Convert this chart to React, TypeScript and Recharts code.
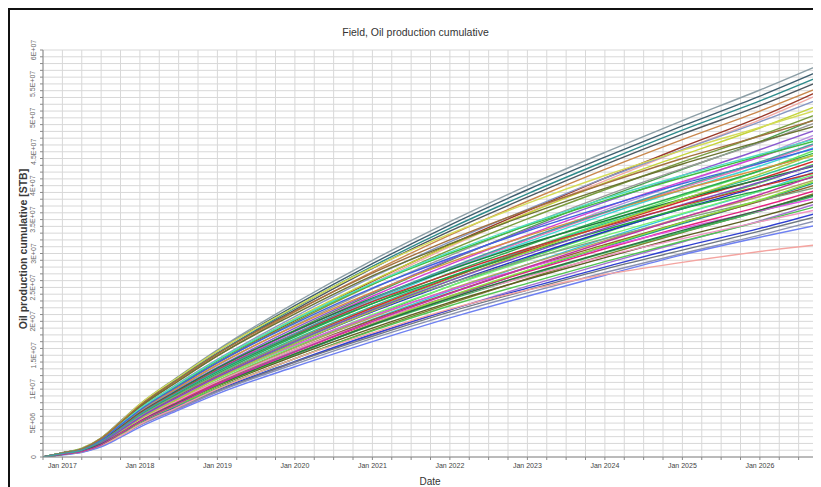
import React from "react";
import { LineChart, Line, XAxis, YAxis, CartesianGrid } from "recharts";

// sample dates (decimal years), values in millions of STB
const times = [2016.75, 2017, 2017.25, 2017.5, 2017.75, 2018, 2018.5, 2019, 2020, 2021, 2022, 2023, 2024, 2025, 2026, 2026.75];
const xTickYears = [2017, 2018, 2019, 2020, 2021, 2022, 2023, 2024, 2025, 2026];
const xTickLabels = ["Jan 2017", "Jan 2018", "Jan 2019", "Jan 2020", "Jan 2021", "Jan 2022", "Jan 2023", "Jan 2024", "Jan 2025", "Jan 2026"];
const yTickValues = [0, 5, 10, 15, 20, 25, 30, 35, 40, 45, 50, 55, 60];
const yTickLabels = ["0", "5E+06", "1E+07", "1.5E+07", "2E+07", "2.5E+07", "3E+07", "3.5E+07", "4E+07", "4.5E+07", "5E+07", "5.5E+07", "6E+07"];

const r01 = [0, 0.6, 1.3, 2.8, 5.3, 7.8, 11.9, 15.8, 22.7, 29.0, 34.7, 40.0, 44.9, 49.6, 54.1, 57.7];
const r02 = [0, 0.6, 1.2, 2.8, 5.2, 7.7, 11.8, 15.6, 22.3, 28.5, 34.2, 39.4, 44.2, 48.8, 53.2, 56.8];
const r03 = [0, 0.6, 1.2, 2.7, 5.1, 7.6, 11.6, 15.3, 22.0, 28.1, 33.7, 38.8, 43.6, 48.2, 52.5, 56.0];
const r04 = [0, 0.6, 1.2, 2.7, 5.0, 7.5, 11.4, 15.2, 21.7, 27.8, 33.3, 38.3, 43.1, 47.6, 51.8, 55.3];
const r05 = [0, 0.6, 1.2, 2.7, 5.0, 7.3, 11.3, 14.9, 21.4, 27.3, 32.7, 37.7, 42.4, 46.8, 51.0, 54.4];
const r06 = [0, 0.5, 1.1, 2.4, 4.5, 6.7, 10.3, 13.9, 20.1, 25.9, 31.3, 36.3, 41.1, 45.7, 50.1, 53.9];
const r07 = [0, 0.5, 1.1, 2.3, 4.4, 6.7, 10.2, 13.8, 19.9, 25.6, 31.0, 36.0, 40.7, 45.3, 49.7, 53.4];
const r08 = [0, 0.6, 1.2, 2.6, 4.8, 7.1, 10.9, 14.4, 20.7, 26.5, 31.7, 36.5, 41.1, 45.3, 49.4, 52.7];
const r09 = [0, 0.5, 1.1, 2.5, 4.7, 7.0, 10.7, 14.2, 20.4, 26.0, 31.2, 35.9, 40.4, 44.5, 48.5, 51.8];
const r10 = [0, 0.6, 1.3, 2.8, 5.2, 7.8, 11.8, 15.6, 22.1, 27.9, 32.9, 37.4, 41.5, 45.2, 48.6, 51.2];
const r11 = [0, 0.5, 1.1, 2.5, 4.6, 6.8, 10.5, 13.9, 19.9, 25.4, 30.5, 35.1, 39.4, 43.5, 47.4, 50.6];
const r12 = [0, 0.5, 1.0, 2.2, 4.2, 6.3, 9.6, 12.9, 18.7, 24.0, 29.0, 33.7, 38.2, 42.4, 46.5, 50.0];
const r13 = [0, 0.5, 1.1, 2.4, 4.5, 6.7, 10.2, 13.5, 19.4, 24.8, 29.7, 34.2, 38.5, 42.5, 46.3, 49.4];
const r14 = [0, 0.6, 1.2, 2.7, 5.0, 7.4, 11.2, 14.9, 21.1, 26.7, 31.4, 35.7, 39.6, 43.2, 46.5, 48.9];
const r15 = [0, 0.5, 1.1, 2.4, 4.4, 6.5, 10.0, 13.2, 19.0, 24.2, 29.1, 33.5, 37.6, 41.5, 45.3, 48.3];
const r16 = [0, 0.5, 1.0, 2.1, 4.0, 6.0, 9.1, 12.3, 17.8, 22.9, 27.7, 32.1, 36.4, 40.4, 44.4, 47.7];
const r17 = [0, 0.5, 1.0, 2.3, 4.3, 6.4, 9.8, 12.9, 18.5, 23.7, 28.4, 32.7, 36.8, 40.6, 44.2, 47.2];
const r18 = [0, 0.6, 1.2, 2.6, 4.8, 7.1, 10.7, 14.2, 20.2, 25.5, 30.0, 34.1, 37.8, 41.2, 44.4, 46.7];
const r19 = [0, 0.5, 1.0, 2.3, 4.2, 6.2, 9.6, 12.7, 18.2, 23.2, 27.8, 32.0, 36.0, 39.7, 43.3, 46.2];
const r20 = [0, 0.5, 1.0, 2.2, 4.2, 6.2, 9.5, 12.5, 18.0, 23.0, 27.6, 31.7, 35.7, 39.4, 42.9, 45.8];
const r21 = [0, 0.4, 0.9, 2.0, 3.8, 5.7, 8.7, 11.7, 16.9, 21.8, 26.3, 30.6, 34.6, 38.5, 42.2, 45.4];
const r22 = [0, 0.5, 1.0, 2.2, 4.1, 6.1, 9.3, 12.3, 17.7, 22.6, 27.1, 31.2, 35.1, 38.7, 42.2, 45.0];
const r23 = [0, 0.5, 1.1, 2.5, 4.5, 6.8, 10.3, 13.6, 19.3, 24.3, 28.7, 32.6, 36.1, 39.4, 42.4, 44.6];
const r24 = [0, 0.5, 1.0, 2.2, 4.0, 6.0, 9.1, 12.1, 17.4, 22.2, 26.6, 30.6, 34.4, 38.0, 41.4, 44.2];
const r25 = [0, 0.5, 1.0, 2.1, 4.0, 5.9, 9.1, 12.0, 17.2, 22.0, 26.4, 30.4, 34.1, 37.7, 41.0, 43.8];
const r26 = [0, 0.4, 0.9, 1.9, 3.6, 5.4, 8.3, 11.2, 16.2, 20.8, 25.2, 29.3, 33.1, 36.8, 40.4, 43.4];
const r27 = [0, 0.5, 1.1, 2.4, 4.4, 6.5, 9.9, 13.1, 18.6, 23.4, 27.6, 31.4, 34.8, 38.0, 40.9, 43.0];
const r28 = [0, 0.4, 0.9, 2.1, 3.9, 5.8, 8.8, 11.7, 16.7, 21.4, 25.6, 29.5, 33.2, 36.6, 39.9, 42.6];
const r29 = [0, 0.4, 0.8, 1.9, 3.5, 5.3, 8.1, 10.9, 15.7, 20.3, 24.5, 28.4, 32.2, 35.8, 39.2, 42.2];
const r30 = [0, 0.4, 0.9, 2.0, 3.8, 5.6, 8.7, 11.5, 16.4, 21.0, 25.2, 29.0, 32.6, 35.9, 39.2, 41.8];
const r31 = [0, 0.5, 1.0, 2.3, 4.2, 6.3, 9.5, 12.6, 17.9, 22.6, 26.6, 30.2, 33.5, 36.6, 39.3, 41.4];
const r32 = [0, 0.4, 0.9, 2.0, 3.7, 5.5, 8.5, 11.2, 16.1, 20.6, 24.7, 28.4, 31.9, 35.3, 38.4, 41.0];
const r33 = [0, 0.4, 0.8, 1.8, 3.4, 5.1, 7.8, 10.5, 15.1, 19.5, 23.5, 27.4, 31.0, 34.4, 37.8, 40.6];
const r34 = [0, 0.4, 0.9, 2.0, 3.7, 5.4, 8.3, 11.0, 15.8, 20.2, 24.2, 27.9, 31.3, 34.6, 37.7, 40.2];
const r35 = [0, 0.5, 1.0, 2.2, 4.1, 6.0, 9.2, 12.1, 17.2, 21.7, 25.6, 29.1, 32.2, 35.1, 37.8, 39.8];
const r36 = [0, 0.4, 0.9, 1.9, 3.6, 5.3, 8.2, 10.8, 15.5, 19.8, 23.7, 27.3, 30.7, 33.9, 36.9, 39.4];
const r37 = [0, 0.4, 0.8, 1.7, 3.2, 4.9, 7.4, 10.1, 14.5, 18.7, 22.6, 26.3, 29.8, 33.1, 36.3, 39.0];
const r38 = [0, 0.4, 0.8, 1.9, 3.5, 5.2, 8.0, 10.6, 15.2, 19.4, 23.2, 26.7, 30.1, 33.2, 36.2, 38.6];
const r39 = [0, 0.5, 1.0, 2.1, 3.9, 5.8, 8.8, 11.7, 16.5, 20.8, 24.6, 27.9, 30.9, 33.7, 36.3, 38.2];
const r40 = [0, 0.4, 0.8, 1.9, 3.4, 5.1, 7.8, 10.4, 14.9, 19.0, 22.8, 26.2, 29.4, 32.5, 35.4, 37.8];
const r41 = [0, 0.4, 0.7, 1.6, 3.1, 4.7, 7.1, 9.6, 14.0, 18.0, 21.7, 25.2, 28.5, 31.7, 34.8, 37.4];
const r42 = [0, 0.4, 0.8, 1.8, 3.4, 5.0, 7.7, 10.1, 14.5, 18.6, 22.3, 25.6, 28.8, 31.8, 34.7, 37.0];
const r43 = [0, 0.4, 0.9, 2.0, 3.7, 5.5, 8.4, 11.1, 15.8, 19.9, 23.5, 26.6, 29.6, 32.2, 34.7, 36.5];
const r44 = [0, 0.4, 0.8, 1.8, 3.3, 4.9, 7.5, 9.9, 14.1, 18.1, 21.7, 24.9, 28.0, 31.0, 33.7, 36.0];
const r45 = [0, 0.4, 0.8, 1.7, 3.2, 4.8, 7.3, 9.7, 14.0, 17.8, 21.4, 24.6, 27.7, 30.5, 33.3, 35.5];
const r46 = [0, 0.4, 0.8, 1.7, 3.2, 4.7, 7.2, 9.6, 13.7, 17.5, 21.0, 24.2, 27.2, 30.0, 32.7, 34.9];
const r47 = [0, 0.3, 0.7, 1.5, 2.9, 4.4, 6.9, 9.3, 13.3, 17.0, 20.5, 23.7, 26.8, 29.8, 32.4, 34.2];
const r48 = [0, 0.4, 0.8, 1.7, 3.1, 4.8, 7.4, 10.0, 14.5, 18.3, 21.8, 24.6, 26.9, 28.7, 30.3, 31.3];
const r49 = [0, 0.6, 1.2, 2.6, 4.8, 7.1, 10.8, 14.3, 20.3, 25.6, 30.2, 34.3, 38.1, 41.5, 44.6, 47.0];
const r50 = [0, 0.4, 0.9, 2.0, 3.7, 5.6, 8.6, 11.6, 16.7, 21.5, 26.0, 30.2, 34.2, 38.0, 41.7, 44.8];
const r51 = [0, 0.5, 1.0, 2.1, 3.9, 5.8, 8.9, 11.8, 17.0, 21.7, 26.0, 29.9, 33.7, 37.2, 40.5, 43.2];
const r52 = [0, 0.5, 1.0, 2.3, 4.3, 6.4, 9.7, 12.8, 18.1, 22.9, 27.0, 30.7, 34.0, 37.1, 39.9, 42.0];
const r53 = [0, 0.4, 0.8, 1.8, 3.4, 5.1, 7.8, 10.5, 15.2, 19.6, 23.7, 27.5, 31.1, 34.6, 37.9, 40.8];
const r54 = [0, 0.5, 1.1, 2.5, 4.7, 6.9, 10.5, 13.9, 19.7, 24.9, 29.3, 33.3, 36.9, 40.3, 43.3, 45.6];
const r55 = [0, 0.4, 0.9, 1.9, 3.5, 5.2, 8.0, 10.6, 15.2, 19.5, 23.4, 26.9, 30.2, 33.4, 36.4, 38.8];
const r56 = [0, 0.4, 0.8, 1.8, 3.5, 5.2, 7.9, 10.7, 15.5, 20.0, 24.1, 28.0, 31.7, 35.3, 38.7, 41.6];
const r57 = [0, 0.6, 1.2, 2.7, 5.1, 7.6, 11.5, 15.2, 21.5, 27.1, 32.0, 36.4, 40.3, 44.0, 47.3, 49.8];
const r58 = [0, 0.5, 1.0, 2.3, 4.2, 6.3, 9.6, 12.7, 18.2, 23.3, 27.9, 32.2, 36.1, 39.9, 43.5, 46.4];

const runs = [
  r01, r02, r03, r04, r05, r06, r07, r08, r09, r10, r11, r12, r13, r14, r15, r16, r17, r18, r19, r20,
  r21, r22, r23, r24, r25, r26, r27, r28, r29, r30, r31, r32, r33, r34, r35, r36, r37, r38, r39, r40,
  r41, r42, r43, r44, r45, r46, r47, r48, r49, r50, r51, r52, r53, r54, r55, r56, r57, r58,
];

const runColors = [
  "#8c9ea6", "#3f5f6f", "#2e8b8b", "#4d5860", "#c9874c", "#9a3a2a", "#f2aaa6", "#8797c4", "#c5d43c", "#d4dc58",
  "#7a9c3e", "#4f9f50", "#9a9a9a", "#6b7333", "#8a5ad0", "#b494e0", "#d23fd2", "#3fbf3f", "#e674b4", "#3fd6d6",
  "#5ee85e", "#2fae52", "#d8923e", "#2fc494", "#d42a2a", "#52d052", "#1f7f40", "#2232c2", "#30c6e2", "#74f074",
  "#22a042", "#b2a462", "#1f9292", "#8f6230", "#7fa37f", "#e2207e", "#80802e", "#3fba60", "#e252e2", "#5e5e22",
  "#a070d2", "#52c452", "#f094c4", "#2f40d2", "#6f7880", "#8a92b2", "#6e80f2", "#f4a4a0", "#4fe0c2", "#a8ca3e",
  "#7e4ec2", "#c23232", "#86e23e", "#3f62e2", "#2f6f40", "#c232a2", "#a27040", "#3fa2a2",
];

const FONT = '"Liberation Sans Narrow", "Arial Narrow", "Liberation Sans", Arial, sans-serif';
const MAIN_FONT = '"Liberation Sans", Arial, sans-serif';

const xGridTicks = Array.from({ length: 41 }, (_, i) => 2016.75 + i * 0.25);
const yGridTicks = Array.from({ length: 61 }, (_, i) => i);

const data = times.map((t, i) => {
  const row: Record<string, number> = { t };
  runs.forEach((r, j) => {
    row[`r${j}`] = r[i];
  });
  return row;
});

const xFmt = (v: number) => {
  const idx = xTickYears.indexOf(v);
  return idx >= 0 ? xTickLabels[idx] : "";
};

const YTick = (props: any) => {
  const { x, y, payload } = props;
  const idx = yTickValues.indexOf(payload.value);
  if (idx < 0) return <g />;
  const px = x - 5;
  return (
    <text
      x={px}
      y={y}
      transform={`rotate(-90 ${px} ${y})`}
      textAnchor="middle"
      dominantBaseline="central"
      fontSize={7}
      fill="#6a6a6a"
      fontFamily={FONT}
    >
      {yTickLabels[idx]}
    </text>
  );
};

export default function App() {
  return (
    <div
      style={{
        position: "relative",
        width: 811,
        height: 477,
        borderTop: "2px solid #111",
        borderLeft: "2px solid #111",
        fontFamily: MAIN_FONT,
        background: "#fff",
      }}
    >
      <LineChart width={811} height={477} data={data} margin={{ top: 40, right: 3, bottom: 0, left: 8 }}>
        <CartesianGrid stroke="#d8d8d8" strokeWidth={1} />
        <XAxis
          dataKey="t"
          type="number"
          domain={[2016.75, 2026.75]}
          ticks={xGridTicks}
          interval={0}
          tickFormatter={xFmt}
          tick={{ fontSize: 7, fill: "#444", fontFamily: FONT }}
          tickSize={3}
          tickMargin={3}
          height={30}
          stroke="#8a8a8a"
          allowDataOverflow
        />
        <YAxis
          type="number"
          domain={[0, 60]}
          ticks={yGridTicks}
          interval={0}
          tick={(p: any) => <YTick {...p} />}
          width={25}
          tickSize={3}
          stroke="#8a8a8a"
          allowDataOverflow
        />
        {runs.map((_, j) => (
          <Line
            key={j}
            dataKey={`r${j}`}
            type="monotone"
            stroke={runColors[j]}
            strokeWidth={1.4}
            dot={false}
            isAnimationActive={false}
          />
        ))}
      </LineChart>
      <div
        style={{
          position: "absolute",
          left: 0,
          top: 16,
          width: 811,
          textAlign: "center",
          fontSize: 10.5,
          lineHeight: "12px",
          color: "#333",
        }}
      >
        Field, Oil production cumulative
      </div>
      <div
        style={{
          position: "absolute",
          left: 370,
          top: 466,
          width: 100,
          textAlign: "center",
          fontSize: 10,
          lineHeight: "12px",
          color: "#333",
        }}
      >
        Date
      </div>
      <div
        style={{
          position: "absolute",
          left: -87,
          top: 232,
          width: 200,
          height: 14,
          lineHeight: "14px",
          textAlign: "center",
          fontSize: 10.5,
          fontWeight: "bold",
          color: "#3a3a3a",
          transform: "rotate(-90deg)",
          whiteSpace: "nowrap",
        }}
      >
        Oil production cumulative [STB]
      </div>
    </div>
  );
}
